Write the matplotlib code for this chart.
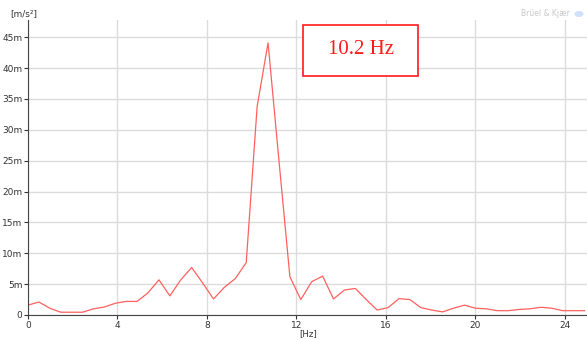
import matplotlib.pyplot as plt
from matplotlib.ticker import FixedLocator
from matplotlib.patches import Rectangle, Ellipse

# spectrum (Hz, m/s^2 in milli)
freq_step = 0.488
accel_m = [1.6, 2.1, 1.1, 0.45, 0.45, 0.45, 1.0, 1.3, 1.9, 2.2,
           2.2, 3.6, 5.7, 3.1, 5.7, 7.7, 5.2, 2.6, 4.5, 5.9,
           8.5, 33.8, 44.1, 25.0, 6.2, 2.5, 5.4, 6.3, 2.6, 4.05,
           4.3, 2.5, 0.8, 1.2, 2.65, 2.5, 1.2, 0.8, 0.5, 1.1,
           1.6, 1.1, 1.0, 0.7, 0.7, 0.9, 1.0, 1.25, 1.1, 0.7,
           0.7, 0.7]
freqs = [i * freq_step for i in range(len(accel_m))]

x_ticks = [0, 4, 8, 12, 16, 20, 24]
y_ticks = [0, 5, 10, 15, 20, 25, 30, 35, 40, 45]
y_labels = ["0"] + ["%dm" % v for v in y_ticks[1:]]
peak_label = "10.2 Hz"

W, H = 587, 339
fig = plt.figure(figsize=(W / 100, H / 100), dpi=100)
ax = fig.add_axes([28 / W, 1 - 315 / H, 1 - 28 / W, (315 - 20) / H])

ax.plot(freqs, accel_m, color="#ff6060", lw=0.9)

ax.set_xlim(0, 25)
ax.set_ylim(0, 47.8)
ax.xaxis.set_major_locator(FixedLocator(x_ticks))
ax.yaxis.set_major_locator(FixedLocator(y_ticks))
ax.set_yticklabels(y_labels)
ax.grid(True, color="#dcdcdc", lw=1)
ax.set_axisbelow(True)
ax.tick_params(labelsize=6.5, colors="#333333", length=3, width=0.8, pad=1)

for s in ["top", "right"]:
    ax.spines[s].set_visible(False)
ax.spines["left"].set_color("#444444")
ax.spines["bottom"].set_color("#444444")

fig.text(10 / W, 1 - 14 / H, "[m/s²]", fontsize=6.5, color="#333333", va="center")
fig.text(308 / W, 1 - 334 / H, "[Hz]", fontsize=6.2, color="#333333", ha="center", va="center")
fig.text(570 / W, 1 - 14 / H, "Brüel & Kjær", fontsize=5.5, color="#c8c8c8", ha="right", va="center")
fig.patches.append(Ellipse((579 / W, 1 - 14 / H), 9 / W, 6 / H, transform=fig.transFigure,
                           fc="#cfe0fb", ec="none"))

# annotation box
fig.patches.append(Rectangle((303 / W, 1 - 76 / H), 115 / W, 51 / H, transform=fig.transFigure,
                             fc="white", ec="#ff1a1a", lw=1.2, zorder=5))
fig.text(360.5 / W, 1 - 50 / H, peak_label, fontsize=15, family="Liberation Serif",
         color="#ff1a1a", ha="center", va="center", zorder=6)

fig.savefig("out.png", dpi=100)
